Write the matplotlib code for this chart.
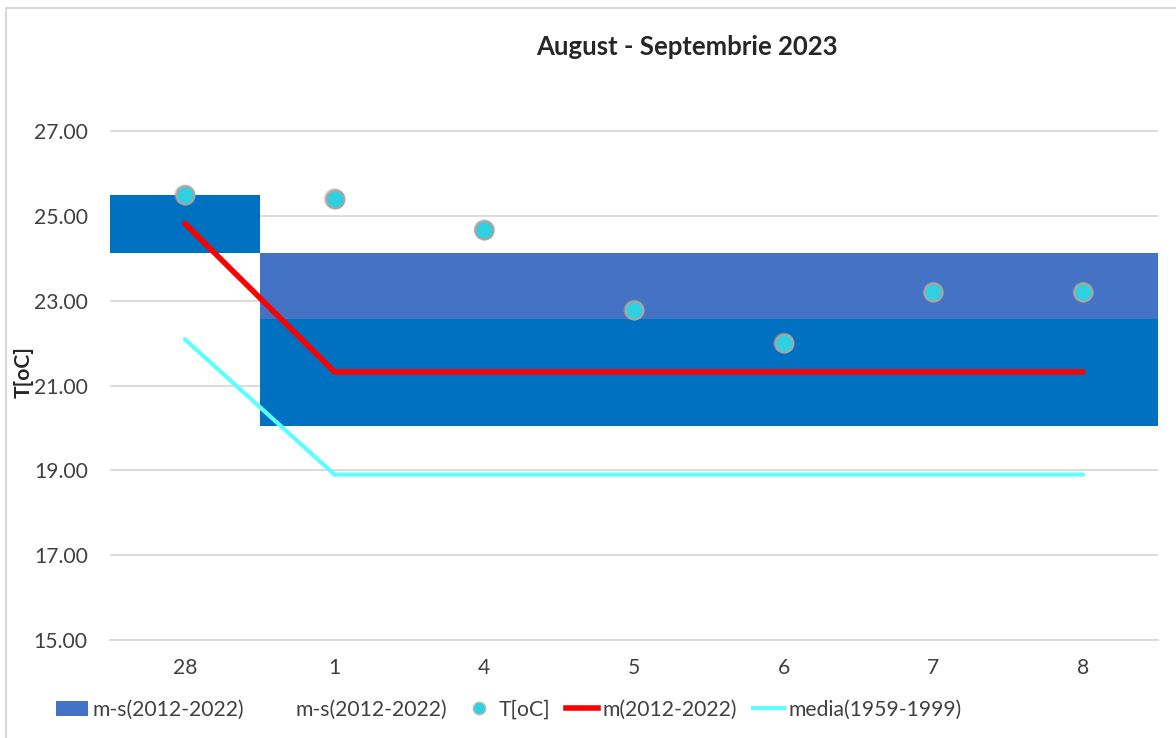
import matplotlib
matplotlib.use('Agg')
import matplotlib.pyplot as plt
from matplotlib.patches import Patch, Rectangle
from matplotlib.lines import Line2D
import numpy as np

plt.rcParams['font.family'] = ['Lato', 'DejaVu Sans']

# data
days = ['28', '1', '4', '5', '6', '7', '8']
band_low = [24.12, 20.04, 20.04, 20.04, 20.04, 20.04, 20.04]   # bottom of the band
band_dark = [1.37, 2.53, 2.53, 2.53, 2.53, 2.53, 2.53]         # dark blue part
band_light = [0.0, 1.55, 1.55, 1.55, 1.55, 1.55, 1.55]         # lighter blue part on top
temp = [25.49, 25.40, 24.67, 22.78, 22.00, 23.20, 23.20]
mean_2012_2022 = [24.82, 21.32, 21.32, 21.32, 21.32, 21.32, 21.32]
media_1959_1999 = [22.09, 18.90, 18.90, 18.90, 18.90, 18.90, 18.90]

dark_blue = '#0070C0'
light_blue = '#4472C4'
dot_color = '#2FD0E0'
red = '#FF0000'
cyan = '#5CFFFF'
fs = 15.2

fig = plt.figure(figsize=(11.76, 7.38), dpi=100)
fig.patches.append(Rectangle((6 / 1176, -0.1), 1.2, 1 - 8.5 / 738 + 0.1,
                             transform=fig.transFigure, fill=False,
                             edgecolor='#D9D9D9', linewidth=1.5))

ax = fig.add_axes([110 / 1176, 1 - 640 / 738, 1048 / 1176, (640 - 88.6) / 738])
x = np.arange(len(days))

ax.bar(x, band_dark, bottom=band_low, width=1.0, color=dark_blue, zorder=2)
ax.bar(x, band_light, bottom=np.array(band_low) + np.array(band_dark),
       width=1.0, color=light_blue, zorder=2)

ax.plot(x, media_1959_1999, color=cyan, linewidth=3, solid_capstyle='round',
        solid_joinstyle='miter', zorder=3)
ax.plot(x, mean_2012_2022, color=red, linewidth=4, solid_capstyle='round',
        solid_joinstyle='miter', zorder=4)
ax.scatter(x, temp, s=230, color='#9A9A9A', alpha=0.5, zorder=5,
           edgecolors='none')
ax.scatter(x, temp, s=165, color=dot_color, edgecolors='#A6A6A6',
           linewidths=1.5, zorder=6)

ax.set_xlim(-0.5, len(days) - 0.5)
ax.set_ylim(15, 28)
ax.set_yticks(np.arange(15, 28, 2))
ax.set_yticklabels(['{:.2f}'.format(v) for v in np.arange(15, 28, 2)])
ax.set_xticks(x)
ax.set_xticklabels(days)
ax.tick_params(axis='both', length=0, labelsize=fs, colors='#404040')
ax.tick_params(axis='y', pad=16)
ax.tick_params(axis='x', pad=13)
ax.grid(axis='y', color='#D9D9D9', linewidth=1.3, zorder=0)
ax.set_axisbelow(True)
for side in ['top', 'right', 'left']:
    ax.spines[side].set_visible(False)
ax.spines['bottom'].set_color('#D9D9D9')
ax.spines['bottom'].set_linewidth(1.3)

fig.text(24 / 1176, 1 - 372 / 738, 'T[oC]', rotation=90, fontsize=fs,
         fontweight='bold', ha='center', va='center', color='#262626')
fig.text(687 / 1176, 1 - 47 / 738, 'August - Septembrie 2023', fontsize=18.5,
         fontweight='bold', ha='center', va='center', color='#262626')

handles = [
    Patch(facecolor=light_blue, edgecolor='none'),
    Patch(facecolor='none', edgecolor='none'),
    Line2D([], [], linestyle='none', marker='o', markersize=9,
           markerfacecolor=dot_color, markeredgecolor='#BFBFBF'),
    Line2D([], [], color=red, linewidth=4),
    Line2D([], [], color=cyan, linewidth=3),
]
labels = ['m-s(2012-2022)', 'm-s(2012-2022)', 'T[oC]', 'm(2012-2022)',
          'media(1959-1999)']
leg = fig.legend(handles, labels, loc='center', ncol=5,
                 bbox_to_anchor=(509 / 1176, 1 - 710 / 738), frameon=False,
                 fontsize=fs, handlelength=1.5, handletextpad=0.2,
                 columnspacing=0.75, handleheight=0.75)
for t in leg.get_texts():
    t.set_color('#404040')

fig.savefig('out.png', dpi=100)
